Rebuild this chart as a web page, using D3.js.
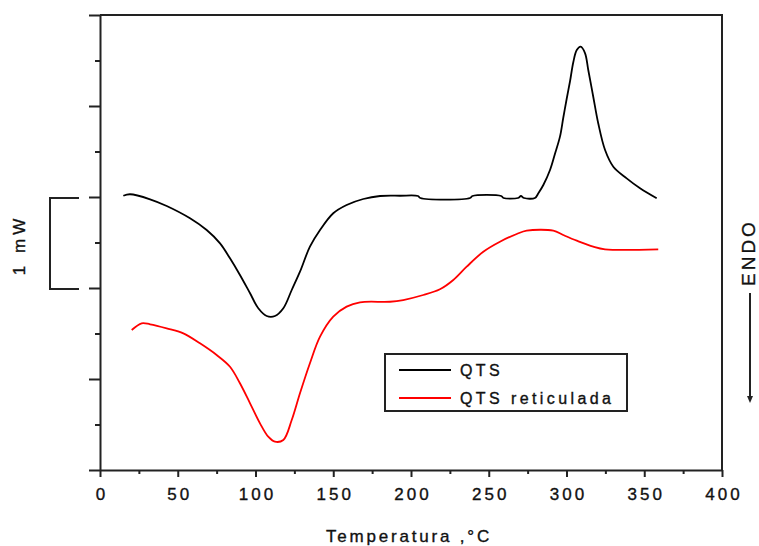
<!DOCTYPE html>
<html>
<head>
<meta charset="utf-8">
<script src="https://cdn.jsdelivr.net/npm/d3@7"></script>
<style>
  body { margin: 0; background: #fff; }
  text { font-family: "Liberation Sans", Arial, sans-serif; fill: #111; stroke: #111; stroke-width: 0.35px; }
</style>
</head>
<body>
<script>
// DSC curves (temperature in °C, heat flow in mW, arbitrary offset)
const qtsTemp = [15, 19.3, 32.2, 42.9, 57.9, 68.6, 77.2, 83.6, 90, 96.5, 101.8, 107.2, 112.5, 117.9,
  123.3, 128.6, 135, 141.5, 150, 158.6, 169.3, 180.1, 192.9, 204.5, 206, 238, 239.5, 258, 259.5,
  268.8, 270.7, 272.7, 279.7, 281.9, 285.1, 289.4, 292.5, 295.8, 297.9, 300.1, 302.3, 304.4, 306.6, 309.1,
  311.9, 314, 317.2, 320.4, 324.8, 330.1, 338.7, 347.3, 358];
const qtsHeat = [3.014, 3.03, 2.975, 2.901, 2.766, 2.637, 2.491, 2.326, 2.143, 1.942, 1.777, 1.692, 1.692, 1.777,
  1.978, 2.179, 2.454, 2.637, 2.821, 2.912, 2.978, 3.011, 3.014, 3.011, 2.989, 2.989, 3.011, 3.011, 2.989,
  2.989, 3.011, 2.989, 2.989, 3.041, 3.132, 3.297, 3.47, 3.663, 3.868, 4.077, 4.275, 4.484, 4.615, 4.652,
  4.582, 4.396, 4.102, 3.81, 3.516, 3.333, 3.205, 3.096, 2.986];

const retTemp = [20.4, 26.8, 32.2, 42.9, 53.6, 64.3, 75, 83.6, 90, 96.5, 102.9, 108.2, 112.5, 117.9,
  123.3, 128.6, 135, 141.5, 150, 158.6, 167.2, 186.5, 195, 207.9, 218.6, 227.2, 235.8, 246.5, 257.2,
  268, 274.4, 291.5, 297.9, 306.6, 317.2, 324.8, 359];
const retHeat = [1.538, 1.612, 1.601, 1.557, 1.502, 1.392, 1.264, 1.135, 0.953, 0.733, 0.513, 0.366, 0.311, 0.33,
  0.549, 0.843, 1.173, 1.465, 1.685, 1.795, 1.843, 1.849, 1.868, 1.923, 1.986, 2.088, 2.234, 2.399, 2.509,
  2.593, 2.63, 2.63, 2.582, 2.52, 2.454, 2.425, 2.425];

const xMajor = [0, 50, 100, 150, 200, 250, 300, 350, 400];
const xMinor = [25, 75, 125, 175, 225, 275, 325, 375];
const yMajor = [0, 1, 2, 3, 4, 5];
const yMinor = [0.5, 1.5, 2.5, 3.5, 4.5];
const seriesNames = ["QTS", "QTS reticulada"];
const seriesColors = ["#000000", "#ff0000"];

const width = 759, height = 546;
const x = d3.scaleLinear().domain([0, 400]).range([100, 722]);
const y = d3.scaleLinear().domain([0, 5]).range([470, 15]);
const axisColor = "#222";

const svg = d3.select("body").append("svg")
  .attr("width", width)
  .attr("height", height);

// frame (top + right)
svg.append("path")
  .attr("d", `M${x(0)},${y(5)}H${x(400)}V${y(0)}`)
  .attr("fill", "none").attr("stroke", axisColor).attr("stroke-width", 2);

// bottom axis
const gx = svg.append("g").attr("transform", `translate(0,${y(0)})`)
  .call(d3.axisBottom(x).tickValues(xMajor).tickSize(7).tickSizeOuter(0).tickFormat(d3.format("d")));
gx.select(".domain").attr("stroke", axisColor).attr("stroke-width", 2);
gx.selectAll(".tick line").attr("stroke", axisColor).attr("stroke-width", 2);
gx.selectAll(".tick text")
  .attr("y", 18).attr("dx", 1.5)
  .style("font-size", "17px").style("letter-spacing", "3px").attr("fill", "#111");

const gxm = svg.append("g").attr("transform", `translate(0,${y(0)})`)
  .call(d3.axisBottom(x).tickValues(xMinor).tickSize(4).tickFormat(""));
gxm.select(".domain").remove();
gxm.selectAll(".tick line").attr("stroke", axisColor).attr("stroke-width", 2);

// left axis, no labels
const gy = svg.append("g").attr("transform", `translate(${x(0)},0)`)
  .call(d3.axisLeft(y).tickValues(yMajor).tickSize(11).tickSizeOuter(0).tickFormat(""));
gy.select(".domain").attr("stroke", axisColor).attr("stroke-width", 2);
gy.selectAll(".tick line").attr("stroke", axisColor).attr("stroke-width", 2);

const gym = svg.append("g").attr("transform", `translate(${x(0)},0)`)
  .call(d3.axisLeft(y).tickValues(yMinor).tickSize(5).tickFormat(""));
gym.select(".domain").remove();
gym.selectAll(".tick line").attr("stroke", axisColor).attr("stroke-width", 2);

// curves
const line = d3.line()
  .x(d => x(d[0]))
  .y(d => y(d[1]))
  .curve(d3.curveCatmullRom.alpha(0.5));

const series = [d3.zip(qtsTemp, qtsHeat), d3.zip(retTemp, retHeat)];
svg.append("g").selectAll("path")
  .data(series)
  .join("path")
    .attr("d", line)
    .attr("fill", "none")
    .attr("stroke", (d, i) => seriesColors[i])
    .attr("stroke-width", 1.8)
    .attr("stroke-linejoin", "round");

// x title
svg.append("text")
  .attr("x", 409).attr("y", 542)
  .attr("text-anchor", "middle")
  .style("font-size", "17px").style("letter-spacing", "2.8px")
  .text("Temperatura ,°C");

// 1 mW scale bracket
svg.append("path")
  .attr("d", `M79,${y(3) + 1}H50V${y(2) + 1}H79`)
  .attr("fill", "none").attr("stroke", axisColor).attr("stroke-width", 2);
svg.append("text")
  .attr("transform", "translate(25,245) rotate(-90)")
  .attr("text-anchor", "middle")
  .style("font-size", "17px").style("letter-spacing", "4px")
  .text("1 mW");

// ENDO label with arrow
svg.append("text")
  .attr("transform", "translate(755,286) rotate(-90)")
  .style("font-size", "19px").style("letter-spacing", "3px")
  .text("ENDO");
svg.append("line")
  .attr("x1", 750).attr("x2", 750).attr("y1", 293).attr("y2", 398)
  .attr("stroke", axisColor).attr("stroke-width", 2);
svg.append("path")
  .attr("d", "M747,396H753L750,403Z")
  .attr("fill", axisColor);

// legend
const legend = svg.append("g");
legend.append("rect")
  .attr("x", 385).attr("y", 354).attr("width", 242).attr("height", 57)
  .attr("fill", "#fff").attr("stroke", axisColor).attr("stroke-width", 2);
const items = legend.selectAll("g.item")
  .data(seriesNames)
  .join("g")
    .attr("class", "item")
    .attr("transform", (d, i) => `translate(0,${370 + i * 28})`);
items.append("line")
  .attr("x1", 399).attr("x2", 451)
  .attr("stroke", (d, i) => seriesColors[i]).attr("stroke-width", 1.8);
items.append("text")
  .attr("x", 460).attr("y", 6)
  .style("font-size", "16px").style("letter-spacing", "3.4px")
  .text(d => d);
</script>
</body>
</html>
